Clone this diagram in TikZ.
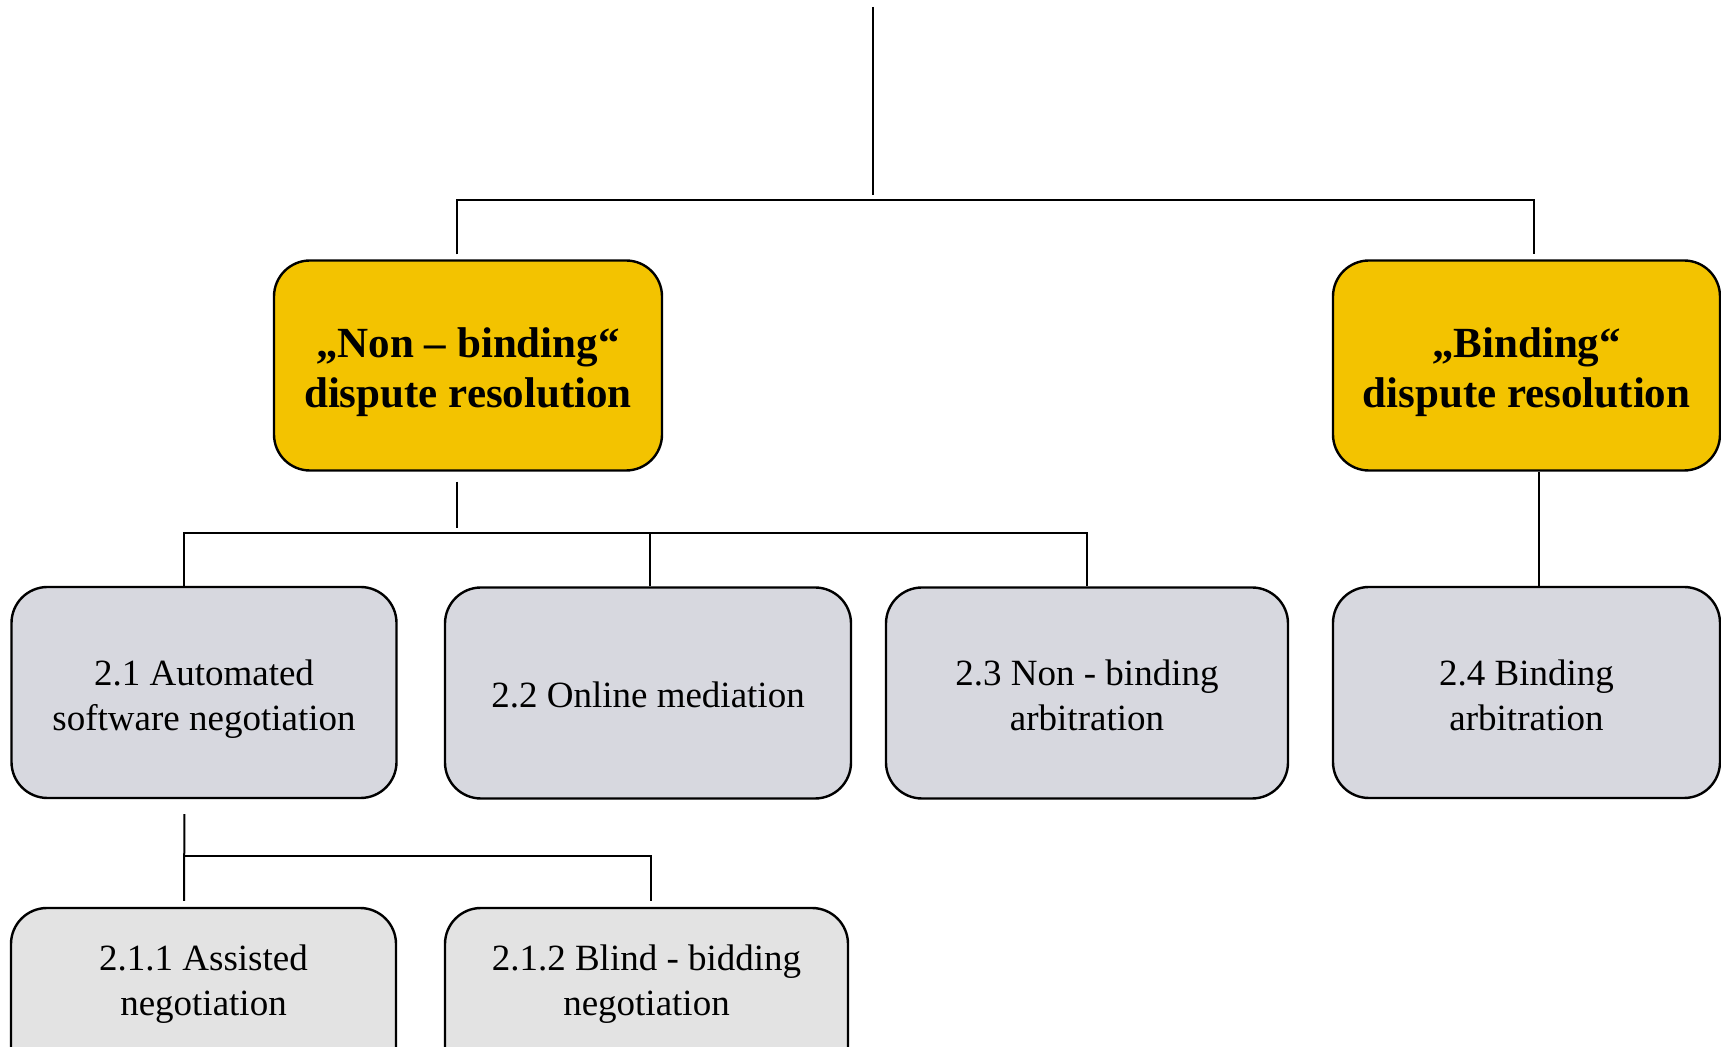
\documentclass[tikz,border=0pt]{standalone}
\usepackage{fontspec}
\setmainfont{Liberation Serif}
\usepackage{tikz}
\definecolor{bindyellow}{RGB}{243,195,0}
\definecolor{formgray}{RGB}{215,216,223}
\definecolor{subgray}{RGB}{227,227,227}

\begin{document}
\begin{tikzpicture}[x=0.5pt, y=-0.5pt, line width=1pt,
    box/.style={draw, line width=1.2pt, rounded corners=18pt, inner sep=0pt},
    kind/.style={box, fill=bindyellow, minimum height=105pt},
    form/.style={box, fill=formgray, minimum height=105.5pt},
    subform/.style={box, fill=subgray, minimum height=105.5pt},
    headtext/.style={inner sep=0pt, align=center, yshift=-3.5pt,
        font=\fontsize{21.5}{25}\selectfont\bfseries},
    boxtext/.style={inner sep=0pt, align=center, yshift=-3.5pt,
        font=\fontsize{18.5}{22.5}\selectfont}]
    \useasboundingbox (0,0) rectangle (1721,1047);
    \clip (0,0) rectangle (1721,1047);
    %% Kinds
    \node[kind, minimum width=194pt,
        label={[headtext]center:{„Non – binding“\\dispute resolution}}] (nb) at (468,365.5) {};
    \node[kind, minimum width=193.5pt,
        label={[headtext]center:{„Binding“\\dispute resolution}}] (b) at (1526.5,365.5) {};
    %% Forms
    \node[form, minimum width=192.5pt,
        label={[boxtext]center:{2.1 Automated\\software negotiation}}] (a1) at (204,692.5) {};
    \node[form, minimum width=203pt,
        label={[boxtext, yshift=2.4pt]center:{2.2 Online mediation}}] (a2) at (648,693) {};
    \node[form, minimum width=201pt,
        label={[boxtext, yshift=2.4pt]center:{2.3 Non - binding\\arbitration}}] (a3) at (1087,693) {};
    \node[form, minimum width=193.5pt,
        label={[boxtext, yshift=2.2pt]center:{2.4 Binding\\arbitration}}] (a4) at (1526.5,692.5) {};
    %% Sub forms
    \node[subform, minimum width=192.5pt,
        label={[boxtext, yshift=18pt]center:{2.1.1 Assisted\\negotiation}}] (c1) at (203.5,1013.5) {};
    \node[subform, minimum width=201.5pt,
        label={[boxtext, yshift=18pt]center:{2.1.2 Blind - bidding\\negotiation}}] (c2) at (646.5,1013.5) {};
    %% Lines
    \coordinate (top) at (873,7);
    \coordinate (split1) at (873,200);
    \coordinate (split2) at (457,533);
    \coordinate (split3) at (184,856);
    \draw[shorten >=2.5pt] (top) -- (split1);
    \draw ([xshift=-5.5pt,yshift=2.5pt]nb.north) -- ([xshift=-5.5pt]nb.north |- split1)
        -- ([xshift=3.75pt]b.north |- split1) -- ([xshift=3.75pt,yshift=2.5pt]b.north);
    \draw[shorten <=5pt, shorten >=2.5pt] ([xshift=-5.5pt]nb.south) -- ([xshift=-5.5pt]nb.south |- split2);
    \draw ([xshift=-10.25pt]a1.north) -- ([xshift=-10.25pt]a1.north |- split2)
        -- (a3.north |- split2) -- (a3.north);
    \draw ([xshift=1pt]a2.north) -- ([xshift=1pt]a2.north |- split2);
    \draw ([xshift=6.25pt]b.south) -- ([xshift=6.25pt]a4.north);
    \draw[shorten <=7.5pt, shorten >=3pt] ([xshift=-9.75pt]a1.south) -- ([xshift=-9.75pt]c1.north);
    \draw[shorten >=3pt] ([xshift=-9.75pt]a1.south |- split3) -| ([xshift=2.25pt]c2.north);
\end{tikzpicture}
\end{document}
